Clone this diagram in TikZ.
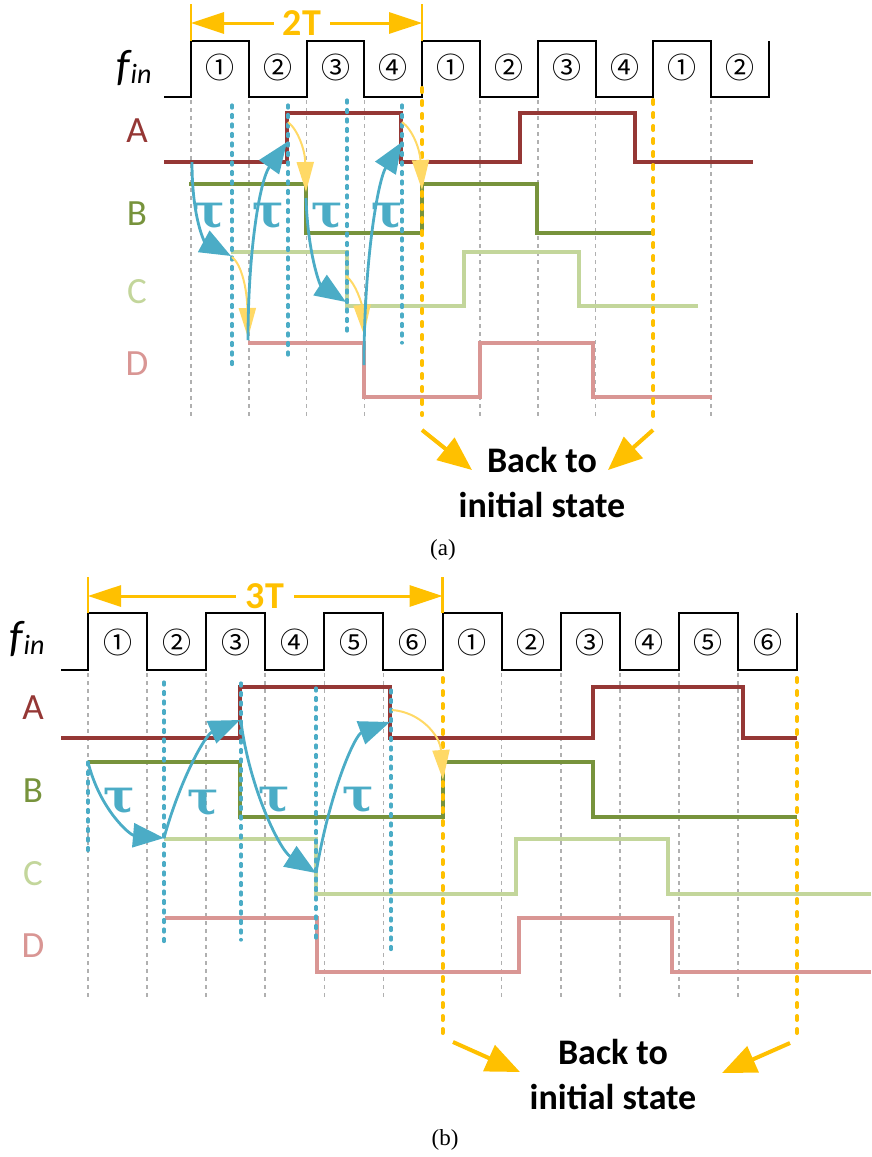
\documentclass[tikz,border=0pt]{standalone}
\usepackage{fontspec}
\setmainfont{Carlito}
\newfontfamily\circfont{Noto Sans CJK SC}
\newfontfamily\serifx{Liberation Serif}
\newfontfamily\taufont{DejaVu Serif}
\usetikzlibrary{arrows.meta}
\definecolor{gold}{HTML}{FFC000}
\definecolor{sigA}{HTML}{953735}
\definecolor{sigB}{HTML}{77933C}
\definecolor{sigC}{HTML}{C3D69B}
\definecolor{sigD}{HTML}{D99694}
\definecolor{bluec}{HTML}{4BACC6}
\definecolor{yelc}{HTML}{FFD966}
\definecolor{gridc}{HTML}{B0B0B0}
\begin{document}
\begin{tikzpicture}[x=1pt,y=-1pt,
  finline/.style={black, line width=2pt},
  gridline/.style={gridc, line width=1.6pt, dash pattern=on 4pt off 4pt},
  sig/.style={line width=4pt},
  bdot/.style={bluec, line width=3.2pt, dash pattern=on 3pt off 6.5pt, line cap=round},
  ydash/.style={gold, line width=4pt, dash pattern=on 4pt off 9pt, line cap=round},
  barrow/.style={bluec, line width=2.8pt, -{Triangle[length=31pt,width=24pt]}},
  yarrow/.style={yelc, line width=2pt, -{Triangle[length=30pt,width=17pt]}},
  backarrow/.style={gold, line width=4pt, -{Triangle[length=34pt,width=28pt]}},
  dimarrow/.style={gold, line width=3pt, -{Triangle[length=33pt,width=21pt]}},
  dimtick/.style={gold, line width=2.5pt},
  siglab/.style={font=\fontsize{37}{37}\selectfont},
  circ/.style={font=\circfont\fontsize{29}{29}\selectfont},
  taulab/.style={text=bluec, font=\taufont\bfseries\fontsize{47}{47}\selectfont},
  dimlab/.style={text=gold, font=\bfseries\fontsize{38}{38}\selectfont},
  backlab/.style={font=\bfseries\fontsize{36}{45}\selectfont, align=center},
  caplab/.style={font=\serifx\fontsize{23}{23}\selectfont},
  finlab/.style={anchor=base west, inner sep=0pt}
]
\useasboundingbox (0,0) rectangle (871,1157);

% ================= (a) =================
\foreach \x in {191,248.8,306.6,364.4,480,537.8,595.6,711.2}
  \draw[gridline] (\x,100) -- (\x,418);
\draw[finline] (164,97) -| (191,41) -| (248.8,97) -| (306.6,41) -| (364.4,97) -| (422.2,41) -| (480,97) -| (537.8,41) -| (595.6,97) -| (653.4,41) -| (711.2,97) -| (769,41);
\foreach \c/\t in {219.9/①,277.7/②,335.5/③,393.3/④,451.1/①,508.9/②,566.7/③,624.5/④,682.3/①,740.1/②}
  \node[circ] at (\c,67) {\t};
\node[finlab] (fina) at (116,80) {\fontsize{44}{44}\selectfont\itshape f\kern1pt\raisebox{-3pt}{\fontsize{28}{28}\selectfont in}};
% dimension 2T
\draw[dimtick] (191,4) -- (191,41);
\draw[dimtick] (422.2,4) -- (422.2,41);
\coordinate (a2L) at (191,23);
\coordinate (a2R) at (422.2,23);
\node[dimlab, inner xsep=9pt] (t2) at (302,23) {2T};
\draw[dimarrow] (t2.west) -- (a2L);
\draw[dimarrow] (t2.east) -- (a2R);
% labels
\node[siglab, text=sigA] (la) at (137,131) {A};
\node[siglab, text=sigB] (lb) at (137,214) {B};
\node[siglab, text=sigC] (lc) at (137,292) {C};
\node[siglab, text=sigD] (ld) at (137,364) {D};
% signals
\draw[sig, sigD] (248,343) -| (364,397) -| (480,343) -| (593,397) -- (712,397);
\draw[sig, sigC] (231,252) -| (347,306) -| (464,252) -| (579,306) -- (698,306);
\draw[sig, sigB] (189,184) -| (306,233) -| (422,184) -| (537,233) -- (653,233);
\draw[sig, sigA] (164,162) -| (287,113) -| (401,162) -| (520,113) -| (635,162) -- (753,162);
% blue dotted
\draw[bdot] (232,105) -- (232,367);
\draw[bdot] (288,105) -- (288,357);
\draw[bdot] (347,100) -- (347,333);
\draw[bdot] (402,105) -- (402,343);
% yellow dashed
\draw[ydash] (422.2,88) -- (422.2,415);
\draw[ydash] (653.4,100) -- (653.4,422);
% yellow arrows
\draw[yarrow] (288,122) .. controls (298,130) and (305,150) .. (306,192);
\draw[yarrow] (232,257) .. controls (242,265) and (247,290) .. (248,338);
\draw[yarrow] (346,276) .. controls (356,283) and (362,305) .. (364,335);
\draw[yarrow] (402,122) .. controls (413,130) and (420,150) .. (422,190);
% blue arrows
\coordinate (a1s) at (192,162); \coordinate (a1e) at (231,256);
\coordinate (a2s) at (248,340); \coordinate (a2e) at (287,142);
\coordinate (a3s) at (306,198); \coordinate (a3e) at (346,302);
\coordinate (a4s) at (364,365); \coordinate (a4e) at (402,142);
\draw[barrow] (a1s) .. controls (192,220) and (205,242) .. (a1e);
\draw[barrow] (a2s) .. controls (248,250) and (260,180) .. (a2e);
\draw[barrow] (a3s) .. controls (308,255) and (320,285) .. (a3e);
\draw[barrow] (a4s) .. controls (364,260) and (378,180) .. (a4e);
\node[taulab] (ta1) at (209,216) {τ};
\node[taulab] (ta2) at (268,216) {τ};
\node[taulab] (ta3) at (327,216) {τ};
\node[taulab] (ta4) at (387,216) {τ};
% back to initial state
\node[backlab] (backa) at (542,482) {Back to\\initial state};
\coordinate (ba1) at (422,430); \coordinate (ba1e) at (472,470);
\coordinate (ba2) at (653,430); \coordinate (ba2e) at (608,470);
\draw[backarrow] (ba1) -- (ba1e);
\draw[backarrow] (ba2) -- (ba2e);
\node[caplab] (capa) at (443,550) {(a)};

% ================= (b) =================
\foreach \x in {88,147.1,206.2,265.2,324.3,383.4,501.6,560.7,619.7,678.8,737.9}
  \draw[gridline] (\x,673) -- (\x,1000);
\draw[finline] (61,670) -| (88,613) -| (147.1,670) -| (206.2,613) -| (265.2,670) -| (324.3,613) -| (383.4,670) -| (442.5,613) -| (501.6,670) -| (560.7,613) -| (619.7,670) -| (678.8,613) -| (737.9,670) -| (797,613);
\foreach \c/\t in {117.5/①,176.7/②,235.7/③,294.8/④,353.9/⑤,413/⑥,472/①,531.2/②,590.2/③,649.3/④,708.4/⑤,767.5/⑥}
  \node[circ] at (\c,642) {\t};
\node[finlab] (finb) at (9,651) {\fontsize{44}{44}\selectfont\itshape f\kern1pt\raisebox{-3pt}{\fontsize{28}{28}\selectfont in}};
% dimension 3T
\draw[dimtick] (88,577) -- (88,613);
\draw[dimtick] (442.5,577) -- (442.5,613);
\coordinate (b3L) at (88,596);
\coordinate (b3R) at (442.5,596);
\node[dimlab, inner xsep=10pt] (t3) at (265,596) {3T};
\draw[dimarrow] (t3.west) -- (b3L);
\draw[dimarrow] (t3.east) -- (b3R);
% labels
\node[siglab, text=sigA] (lba) at (33,708) {A};
\node[siglab, text=sigB] (lbb) at (33,791) {B};
\node[siglab, text=sigC] (lbc) at (33,874) {C};
\node[siglab, text=sigD] (lbd) at (33,946) {D};
% signals
\draw[sig, sigD] (165,918) -| (317,972) -| (519,918) -| (672,972) -- (871,972);
\draw[sig, sigC] (164,839) -| (316,894) -| (516,839) -| (668,894) -- (871,894);
\draw[sig, sigB] (88,762) -| (240,817) -| (443,762) -| (593,817) -- (797,817);
\draw[sig, sigA] (61,738) -| (240,687) -| (390,738) -| (593,687) -| (743,738) -- (797,738);
% blue dotted
\draw[bdot] (88,762) -- (88,853);
\draw[bdot] (164,682) -- (164,947);
\draw[bdot] (241,683) -- (241,940);
\draw[bdot] (316,688) -- (316,942);
\draw[bdot] (391,690) -- (391,950);
% yellow dashed
\draw[ydash] (442.5,678) -- (442.5,1033);
\draw[ydash] (797,678) -- (797,1033);
% yellow arrow
\draw[yarrow] (392,710) .. controls (420,712) and (440,735) .. (443,780);
% blue arrows
\coordinate (b1s) at (88,762); \coordinate (b1e) at (164,838);
\coordinate (b2s) at (164,838); \coordinate (b2e) at (240,720);
\coordinate (b3s) at (241,722); \coordinate (b3e) at (316,873);
\coordinate (b4s) at (316,873); \coordinate (b4e) at (390,722);
\draw[barrow] (b1s) .. controls (100,810) and (130,835) .. (b1e);
\draw[barrow] (b2s) .. controls (180,780) and (205,735) .. (b2e);
\draw[barrow] (b3s) .. controls (250,790) and (280,850) .. (b3e);
\draw[barrow] (b4s) .. controls (330,790) and (355,735) .. (b4e);
\node[taulab] (tb1) at (119,801) {τ};
\node[taulab] (tb2) at (203,803) {τ};
\node[taulab] (tb3) at (274,800) {τ};
\node[taulab] (tb4) at (358,800) {τ};
% back to initial state
\node[backlab] (backb) at (613,1074) {Back to\\initial state};
\coordinate (bb1) at (453,1042); \coordinate (bb1e) at (520,1072);
\coordinate (bb2) at (790,1043); \coordinate (bb2e) at (722,1073);
\draw[backarrow] (bb1) -- (bb1e);
\draw[backarrow] (bb2) -- (bb2e);
\node[caplab] (capb) at (445,1140) {(b)};
\end{tikzpicture}
\end{document}
